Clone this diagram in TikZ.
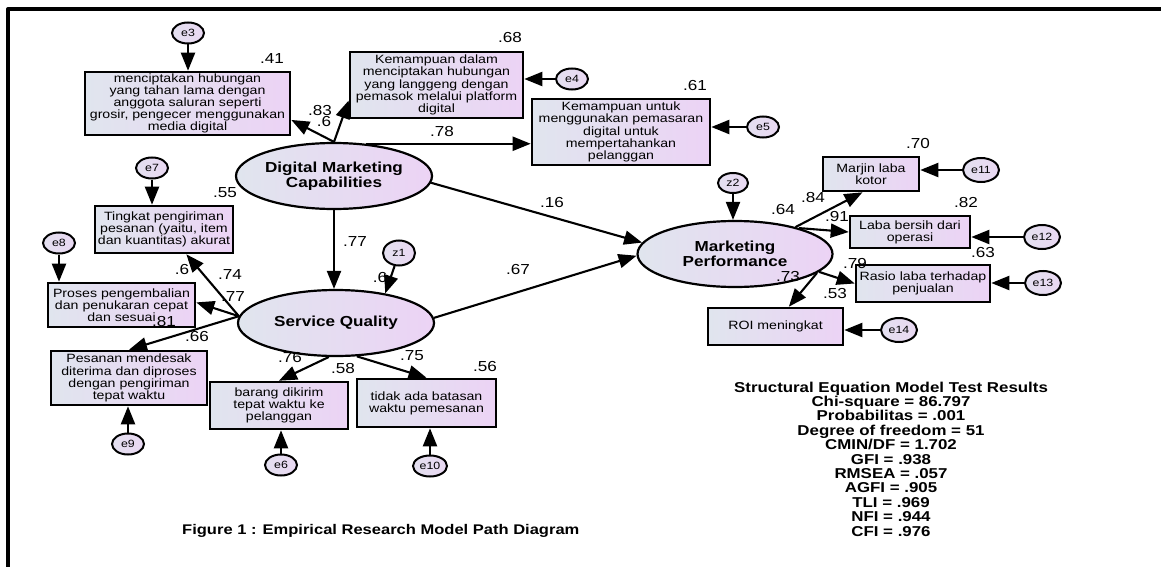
\documentclass[tikz,border=0pt]{standalone}
\usepackage{fontspec}
\setmainfont{Liberation Sans}[FakeStretch=1.18]
\usetikzlibrary{arrows.meta,shapes.geometric}
\definecolor{gL}{RGB}{224,229,238}
\definecolor{gR}{RGB}{236,211,245}
\definecolor{eF}{RGB}{233,216,242}
\begin{document}
\begin{tikzpicture}[x=1pt,y=-1pt,
  obs/.style={draw=black, line width=2.6pt, left color=gL, right color=gR, align=center,
    inner sep=0pt, font=\fontsize{12}{12.2}\selectfont},
  lat/.style={ellipse, draw=black, line width=2.2pt, left color=gL, right color=gR, align=center,
    inner sep=0pt, minimum width=196pt, minimum height=66pt,
    font=\fontsize{14.5}{13.3}\selectfont\bfseries},
  err/.style={ellipse, draw=black, line width=2pt, left color=gL!60!eF, right color=eF,
    minimum width=32pt, minimum height=21pt, inner sep=0pt, font=\fontsize{10.5}{10.5}\selectfont},
  errb/.style={err, minimum width=36pt, minimum height=24pt},
  lbl/.style={font=\fontsize{14.5}{14.5}\selectfont, inner sep=0pt},
  pth/.style={line width=2.1pt, -{Triangle[length=18pt,width=14pt]}},
  stat/.style={align=center, inner sep=0pt, font=\fontsize{14.3}{14.4}\selectfont\bfseries},
]
\useasboundingbox (0,0) rectangle (1161,567);
\fill[white] (0,0) rectangle (1161,567);
% frame
\draw[line width=4pt, line join=round] (8,567) -- (8,9) -- (1161,9);

% latent variables
\node[lat] (dmc) at (334,176) {Digital Marketing\\Capabilities};
\node[lat] (sq) at (336,323) {Service Quality};
\node[lat, minimum width=195pt] (mp) at (735,254) {Marketing\\Performance};

% observed indicators of DMC
\node[obs, minimum width=205pt, minimum height=63pt, font=\fontsize{12}{10.7}\selectfont] (b1) at (187.5,103.5)
  {menciptakan hubungan\\yang tahan lama dengan\\anggota saluran seperti\\grosir, pengecer menggunakan\\media digital};
\node[obs, minimum width=173pt, minimum height=66pt] (b2) at (436.5,85)
  {Kemampuan dalam\\menciptakan hubungan\\yang langgeng dengan\\pemasok melalui platform\\digital};
\node[obs, minimum width=178pt, minimum height=66pt] (b3) at (621,132)
  {Kemampuan untuk\\menggunakan pemasaran\\digital untuk\\mempertahankan\\pelanggan};

% observed indicators of SQ
\node[obs, minimum width=138pt, minimum height=47pt] (tk) at (164,229.5)
  {Tingkat pengiriman\\pesanan (yaitu, item\\dan kuantitas) akurat};
\node[obs, minimum width=147pt, minimum height=44pt] (pr) at (121.5,305)
  {Proses pengembalian\\dan penukaran cepat\\dan sesuai};
\node[obs, minimum width=156pt, minimum height=54pt] (ps) at (129,378)
  {Pesanan mendesak\\diterima dan diproses\\dengan pengiriman\\tepat waktu};
\node[obs, minimum width=138pt, minimum height=47pt] (br) at (279,405.5)
  {barang dikirim\\tepat waktu ke\\pelanggan};
\node[obs, minimum width=139pt, minimum height=48pt] (td) at (426.5,403)
  {tidak ada batasan\\waktu pemesanan};

% observed indicators of MP
\node[obs, minimum width=96pt, minimum height=34pt] (mj) at (871,174) {Marjin laba\\kotor};
\node[obs, minimum width=120pt, minimum height=32pt] (lb) at (910,232) {Laba bersih dari\\operasi};
\node[obs, minimum width=134pt, minimum height=37pt] (rs) at (923,283.5) {Rasio laba terhadap\\penjualan};
\node[obs, minimum width=135pt, minimum height=37pt] (roi) at (775.5,326.5) {ROI meningkat};

% error terms
\node[err] (e3) at (188,33) {e3};
\node[err] (e4) at (572,79) {e4};
\node[err] (e5) at (763,127) {e5};
\node[err] (e7) at (152,168) {e7};
\node[err] (e8) at (59,243) {e8};
\node[err] (e9) at (128,444) {e9};
\node[err] (e6) at (281,465) {e6};
\node[err, minimum width=34pt] (e10) at (430,466) {e10};
\node[errb] (e11) at (981,170) {e11};
\node[errb] (e12) at (1042,237) {e12};
\node[errb] (e13) at (1043,283) {e13};
\node[errb] (e14) at (899,330) {e14};
\node[err, minimum width=32pt, minimum height=25pt] (z1) at (399,253) {z1};
\node[err, minimum width=30pt, minimum height=20pt] (z2) at (733,183) {z2};

% coefficient labels
\node[lbl] (l41) at (272,59) {.41};
\node[lbl] (l68) at (510,38) {.68};
\node[lbl] (l61) at (695,86) {.61};
\node[lbl] (l83) at (320,111) {.83};
\node[lbl] (l6a) at (324,122) {.6};
\node[lbl] (l78) at (442,132) {.78};
\node[lbl] (l55) at (225,193) {.55};
\node[lbl] (l16) at (552,203) {.16};
\node[lbl] (l77a) at (355,242) {.77};
\node[lbl] (l6b) at (380,278) {.6};
\node[lbl] (l67) at (518,270) {.67};
\node[lbl] (l6c) at (182,270) {.6};
\node[lbl] (l74) at (230,275) {.74};
\node[lbl] (l77b) at (233,297) {.77};
\node[lbl] (l81) at (164,322) {.81};
\node[lbl] (l66) at (197,337) {.66};
\node[lbl] (l76) at (290,358) {.76};
\node[lbl] (l58) at (343,369) {.58};
\node[lbl] (l75) at (412,356) {.75};
\node[lbl] (l56) at (485,367) {.56};
\node[lbl] (l70) at (918,144) {.70};
\node[lbl] (l84) at (813,198) {.84};
\node[lbl] (l64) at (783,210) {.64};
\node[lbl] (l91) at (837,217) {.91};
\node[lbl] (l82) at (966,203) {.82};
\node[lbl] (l63) at (983,253) {.63};
\node[lbl] (l79) at (855,264) {.79};
\node[lbl] (l73) at (788,277) {.73};
\node[lbl] (l53) at (835,294) {.53};

% structural paths
\draw[pth] (dmc.south) -- (dmc.south |- sq.north);
\draw[pth] (dmc.-4) -- (mp.173);
\draw[pth] (sq.3) -- (mp.181);
\draw[pth] (z1) -- (sq.31);
\draw[pth] (z2.south) -- (z2.south |- mp.north);

% measurement paths DMC
\draw[pth] (dmc.90) -- (b1.-9);
\draw[pth] (dmc.90) -- (b2.190);
\draw[pth] (dmc.45) -- (dmc.45 -| b3.west);

% measurement paths SQ
\draw[pth] (sq.176) -- (tk.-48);
\draw[pth] (sq.176) -- (pr.2);
\draw[pth] (sq.176) -- (ps.north);
\draw[pth] (sq.-102) -- (br.north);
\draw[pth] (sq.-58) -- (td.north);

% measurement paths MP
\draw[pth] (mp.24) -- (mj.-115);
\draw[pth] (mp.22) -- (lb.west);
\draw[pth] (mp.-12) -- (rs.west);
\draw[pth] (mp.-13) -- (roi.56);

% error arrows
\draw[pth] (e3.south) -- (e3.south |- b1.north);
\draw[pth] (e4.west) -- (e4.west -| b2.east);
\draw[pth] (e5.west) -- (e5.west -| b3.east);
\draw[pth] (e7.south) -- (e7.south |- tk.north);
\draw[pth] (e8.south) -- (e8.south |- pr.north);
\draw[pth] (e9.north) -- (e9.north |- ps.south);
\draw[pth] (e6.north) -- (e6.north |- br.south);
\draw[pth] (e10.north) -- (e10.north |- td.south);
\draw[pth] (e11.west) -- (e11.west -| mj.east);
\draw[pth] (e12.west) -- (e12.west -| lb.east);
\draw[pth] (e13.west) -- (e13.west -| rs.east);
\draw[pth] (e14.west) -- (e14.west -| roi.east);

% caption and statistics
\node[anchor=west, inner sep=0pt, font=\fontsize{14}{14}\selectfont\bfseries] (cap) at (182,531)
  {Figure 1 : Empirical Research Model Path Diagram};
\node[stat] (st) at (891,459)
  {Structural Equation Model Test Results\\Chi-square = 86.797\\Probabilitas = .001\\Degree of freedom = 51\\CMIN/DF = 1.702\\GFI = .938\\RMSEA = .057\\AGFI = .905\\TLI = .969\\NFI = .944\\CFI = .976};
\end{tikzpicture}
\end{document}
